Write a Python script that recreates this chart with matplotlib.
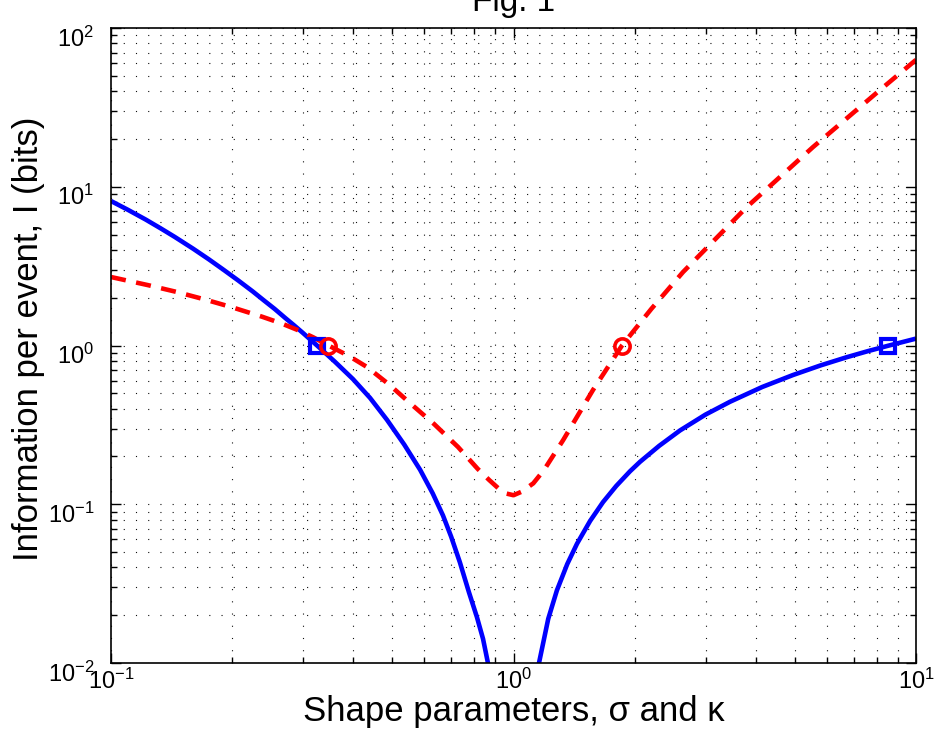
import matplotlib
matplotlib.use("Agg")
import matplotlib.pyplot as plt
from matplotlib.transforms import ScaledTranslation

plt.rcParams['font.family'] = ['Liberation Sans', 'DejaVu Sans']
plt.rcParams['mathtext.default'] = 'regular'

# Information per event (bits) versus shape parameter
sigma_left_x = [0.100, 0.110, 0.122, 0.133, 0.144, 0.160, 0.175, 0.190, 0.207,
                0.225, 0.240, 0.255, 0.271, 0.285, 0.300, 0.325, 0.360, 0.399,
                0.440, 0.485, 0.535, 0.586, 0.630, 0.668, 0.700, 0.736, 0.775,
                0.811, 0.840, 0.864, 0.885]
sigma_left_y = [8.13, 7.17, 6.21, 5.46, 4.83, 4.07, 3.49, 3.01, 2.57,
                2.19, 1.92, 1.70, 1.49, 1.34, 1.198, 1.00, 0.790, 0.615,
                0.468, 0.340, 0.238, 0.165, 0.117, 0.085, 0.0625, 0.043, 0.0279,
                0.0195, 0.0142, 0.0100, 0.0070]

sigma_right_x = [1.13, 1.157, 1.22, 1.282, 1.36, 1.438, 1.55, 1.669, 1.80,
                 1.947, 2.062, 2.30, 2.593, 3.00, 3.45, 4.15, 4.95, 5.80,
                 6.74, 7.60, 8.52, 10.0]
sigma_right_y = [0.0065, 0.010, 0.019, 0.0287, 0.042, 0.0564, 0.0785, 0.1032, 0.1304,
                 0.1612, 0.1850, 0.2331, 0.2918, 0.3672, 0.442, 0.548, 0.652, 0.750,
                 0.845, 0.922, 0.996, 1.105]

kappa_x = [0.100, 0.1236, 0.145, 0.171, 0.200, 0.237, 0.265, 0.290, 0.318,
           0.347, 0.390, 0.4325, 0.490, 0.553, 0.635, 0.728, 0.815, 0.870,
           0.921, 0.953, 1.00, 1.048, 1.12, 1.19, 1.329, 1.576, 1.86, 2.20,
           2.637, 3.80, 5.55, 8.14, 10.0]
kappa_y = [2.70, 2.40, 2.18, 1.95, 1.74, 1.52, 1.378, 1.256, 1.126,
           1.00, 0.859, 0.732, 0.570, 0.434, 0.32, 0.2295, 0.167, 0.1422,
           0.1248, 0.1173, 0.114, 0.12, 0.1355, 0.164, 0.254, 0.525, 1.00, 1.70,
           2.90, 7.46, 17.8, 40.7, 63.0]

# one-bit points on each curve
sigma_mark_x = [0.325, 8.52]
sigma_mark_y = [1.0, 1.0]
kappa_mark_x = [0.347, 1.86]
kappa_mark_y = [1.0, 1.0]

x_ticks = [0.1, 1, 10]
x_tick_labels = ['$10^{-1}$', '$10^{0}$', '$10^{1}$']
y_ticks = [0.01, 0.1, 1, 10, 100]
y_tick_labels = ['$10^{-2}$', '$10^{-1}$', '$10^{0}$', '$10^{1}$', '$10^{2}$']

fig = plt.figure(figsize=(9.35, 7.47), dpi=100)
ax = fig.add_axes([111 / 935, 1 - 663 / 747, 805 / 935, 635 / 747])

ax.plot(sigma_left_x, sigma_left_y, color='#0000ff', lw=3.3,
        solid_capstyle='butt', solid_joinstyle='round')
ax.plot(sigma_right_x, sigma_right_y, color='#0000ff', lw=3.3,
        solid_capstyle='butt', solid_joinstyle='round')
ax.plot(kappa_x, kappa_y, color='#ff0000', lw=3.3, dashes=(3.3, 2.3),
        dash_capstyle='butt', dash_joinstyle='round')
ax.plot(sigma_mark_x, sigma_mark_y, ls='none', marker='s', ms=9.5, mew=3.0,
        mec='#0000ff', mfc='none')
ax.plot(kappa_mark_x, kappa_mark_y, ls='none', marker='o', ms=11, mew=2.6,
        mec='#ff0000', mfc='none')

ax.set_xscale('log')
ax.set_yscale('log')
ax.set_xlim(0.1, 10)
ax.set_ylim(0.01, 100)

ax.set_xticks(x_ticks)
ax.set_xticklabels(x_tick_labels)
ax.set_yticks(y_ticks)
ax.set_yticklabels(y_tick_labels)

ax.tick_params(which='both', direction='in', top=True, right=True,
               width=1.0, color='k', labelsize=17)
ax.tick_params(which='major', length=7)
ax.tick_params(which='minor', length=4)
ax.tick_params(axis='x', which='major', pad=4)
ax.tick_params(axis='y', which='major', pad=12)

for sp in ax.spines.values():
    sp.set_linewidth(1.2)
    sp.set_color('k')

ax.grid(True, which='both', color='#111111', lw=0.8, linestyle=(0, (1, 10)))
ax.set_axisbelow(True)

shift = ScaledTranslation(0, -6 / 72, fig.dpi_scale_trans)
for lab in ax.get_yticklabels():
    lab.set_transform(lab.get_transform() + shift)

ax.set_xlabel('Shape parameters, σ and κ', fontsize=25)
ax.xaxis.set_label_coords(0.5, -0.05)
ax.set_ylabel('Information per event, I (bits)', fontsize=25)
ax.yaxis.set_label_coords(-0.082, 0.51)

fig.text(513.5 / 935, 1 - 11 / 747, 'Fig. 1', ha='center', va='baseline',
         fontsize=24)

fig.savefig('out.png', dpi=100)
